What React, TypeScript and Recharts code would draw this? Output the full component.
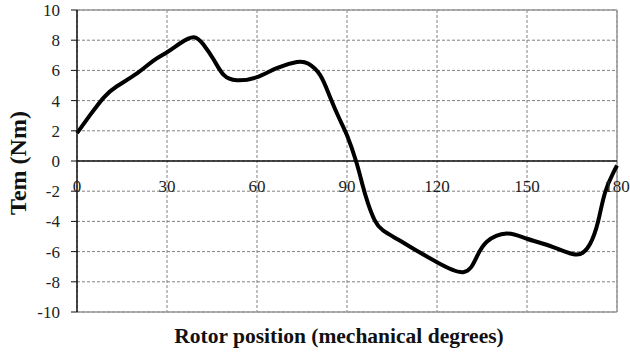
import { LineChart, Line, XAxis, YAxis, CartesianGrid, ReferenceLine } from "recharts";

// rotor position (deg) and electromagnetic torque (Nm)
const positions = [
  0, 4.4, 8.9, 13.3, 20, 25.5, 30, 34.4, 38.9, 42.2, 45.6, 48.9, 53.3, 60, 66.6, 73.3, 77, 81, 84.3,
  87.7, 90, 93, 95, 97, 99.3, 102, 107, 112, 120, 128.7, 133, 136.6, 143.2, 150, 158.7, 166.6, 171,
  173.7, 176, 178.7, 180,
];
const torque = [
  1.85, 3.05, 4.2, 4.95, 5.8, 6.65, 7.2, 7.8, 8.2, 7.7, 6.7, 5.7, 5.35, 5.55, 6.15, 6.55, 6.45, 5.7,
  4.25, 2.7, 1.7, 0, -1.45, -2.8, -3.95, -4.6, -5.2, -5.8, -6.7, -7.36, -6.45, -5.35, -4.8, -5.15,
  -5.7, -6.2, -5.5, -4.0, -2.1, -0.8, -0.3,
];
const xTicks = [0, 30, 60, 90, 120, 150, 180];
const yTicks = [-10, -8, -6, -4, -2, 0, 2, 4, 6, 8, 10];

const data = positions.map((p, i) => ({ pos: p, tem: torque[i] }));

const W = 630;
const H = 356;
const TOP = 10;
const BOTTOM = 44;
const PLOT_H = H - TOP - BOTTOM;
const Y_MIN = -10;
const Y_MAX = 10;
const FONT = "'Liberation Serif', 'Times New Roman', serif";

// x tick labels sit under the zero line, not at the bottom of the plot
function XTick({ x, payload }: any) {
  const zeroY = TOP + (PLOT_H * (Y_MAX - 0)) / (Y_MAX - Y_MIN);
  return (
    <text x={x} y={zeroY + 31} textAnchor="middle" fontSize={17} style={{ fontFamily: FONT }} fill="#222">
      {payload.value}
    </text>
  );
}

function YTick({ x, y, payload }: any) {
  return (
    <text x={x} y={y} dy={6} textAnchor="end" fontSize={17} style={{ fontFamily: FONT }} fill="#222">
      {payload.value}
    </text>
  );
}

function XTitle({ viewBox }: any) {
  const cx = viewBox.x + viewBox.width / 2 - 8;
  return (
    <text x={cx} y={H - 13} textAnchor="middle" fontSize={21.5} fontWeight="bold" style={{ fontFamily: FONT }} fill="#111">
      Rotor position (mechanical degrees)
    </text>
  );
}

function YTitle({ viewBox }: any) {
  const cy = viewBox.y + viewBox.height / 2 + 2;
  const cx = 26;
  return (
    <text
      x={cx}
      y={cy}
      transform={`rotate(-90 ${cx} ${cy})`}
      textAnchor="middle"
      fontSize={24}
      fontWeight="bold"
      style={{ fontFamily: FONT }}
      fill="#111"
    >
      Tem (Nm)
    </text>
  );
}

export default function App() {
  return (
    <div style={{ position: "absolute", left: 0, top: 0, background: "#fff", fontFamily: FONT }}>
      <LineChart width={W} height={H} data={data} margin={{ top: TOP, right: 13, bottom: 0, left: 0 }}>
        <CartesianGrid stroke="#808080" strokeDasharray="3 2" />
        <XAxis
          dataKey="pos"
          type="number"
          domain={[0, 180]}
          ticks={xTicks}
          height={BOTTOM}
          axisLine={false}
          tickLine={false}
          tick={<XTick />}
          label={<XTitle />}
        />
        <YAxis
          type="number"
          domain={[Y_MIN, Y_MAX]}
          ticks={yTicks}
          width={77}
          axisLine={{ stroke: "#111", strokeWidth: 1.5 }}
          tickLine={{ stroke: "#111" }}
          tickSize={6}
          tickMargin={11}
          tick={<YTick />}
          label={<YTitle />}
        />
        <ReferenceLine y={Y_MAX} stroke="#999" strokeWidth={1.5} />
        <ReferenceLine y={Y_MIN} stroke="#999" strokeWidth={1.5} />
        <ReferenceLine x={180} stroke="#999" strokeWidth={1.5} />
        <ReferenceLine y={0} stroke="#111" strokeWidth={1.5} />
        <Line
          type="natural"
          dataKey="tem"
          stroke="#000"
          strokeWidth={4}
          dot={false}
          isAnimationActive={false}
        />
      </LineChart>
    </div>
  );
}
